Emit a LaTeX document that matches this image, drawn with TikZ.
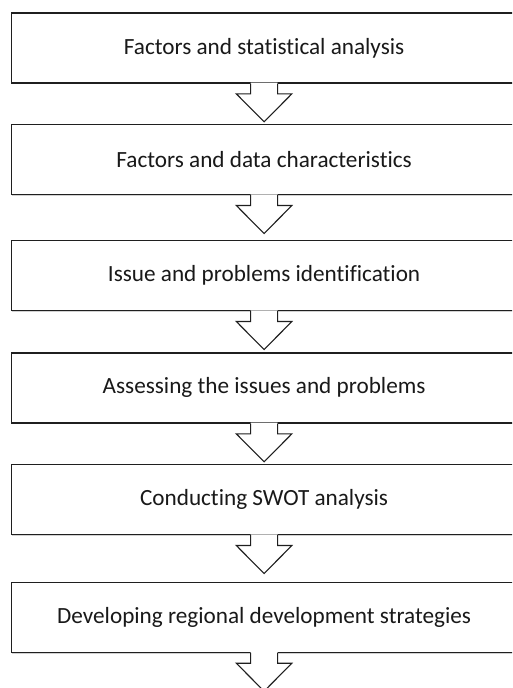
\documentclass[tikz,border=0pt]{standalone}
\usepackage{fontspec}
\setmainfont{Carlito}[Ligatures=NoCommon]
\usetikzlibrary{calc}
\tikzset{
  stepbox/.style={draw=black!88, line width=1.2pt, fill=white, minimum width=505.6pt,
    minimum height=70pt, inner sep=0pt, anchor=north west, font=\fontsize{23.2}{26}\selectfont,
    text=black!90},
  boxshadow/.style={draw=black!18, line width=1pt},
  fatarrow/.style={draw=black!88, line width=1.1pt, line join=miter},
}
\newcommand{\flowarrow}[1]{%
  \fill[white] ($(#1.south)+(-13.5,-0.8)$) -- ++(0,10.3) -- ++(-14.3,0) -- ($(#1.south)+(0,38.3)$)
     -- ($(#1.south)+(27.8,10.3)$) -- ++(-14.3,0) -- ($(#1.south)+(13.5,-0.8)$) -- cycle;
  \draw[fatarrow] ($(#1.south)+(-13.5,0)$) -- ++(0,10.3) -- ++(-14.3,0) -- ($(#1.south)+(0,38.3)$)
     -- ($(#1.south)+(27.8,10.3)$) -- ++(-14.3,0) -- ($(#1.south)+(13.5,0)$);
}
\begin{document}
\begin{tikzpicture}[x=1pt,y=-1pt]
\useasboundingbox (0,0) rectangle (512,688);
\begin{scope}
\clip (0,0) rectangle (512,688);
\foreach \t in {12.3,124,240,352.3,464,581.7}{
  \draw[boxshadow] (11.5,\t+71.5) -- (517,\t+71.5);
}
\node[stepbox] (b1) at (10.7,12.3) {Factors and statistical analysis};
\node[stepbox] (b2) at (10.7,124) {Factors and data characteristics};
\node[stepbox] (b3) at (10.7,240) {Issue and problems identification};
\node[stepbox] (b4) at (10.7,352.3) {Assessing the issues and problems};
\node[stepbox] (b5) at (10.7,464) {Conducting SWOT analysis};
\node[stepbox] (b6) at (10.7,581.7) {Developing regional development strategies};
\flowarrow{b1}
\flowarrow{b2}
\flowarrow{b3}
\flowarrow{b4}
\flowarrow{b5}
\flowarrow{b6}
\end{scope}
\end{tikzpicture}
\end{document}
